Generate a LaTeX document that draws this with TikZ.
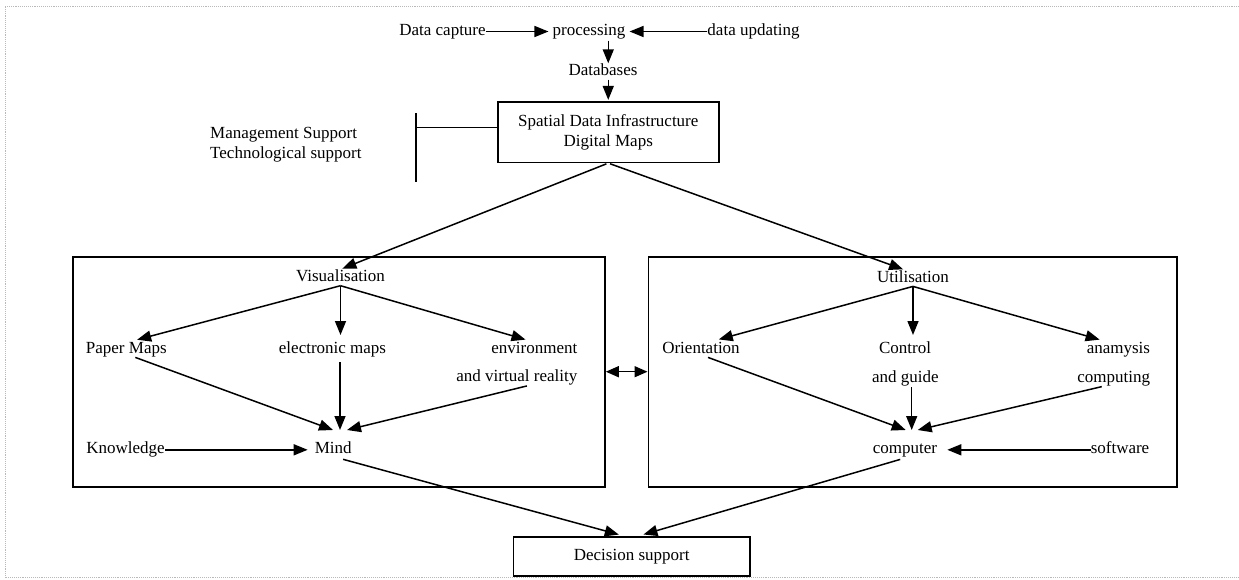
\documentclass[tikz,border=0pt]{standalone}
\usepackage{fontspec}
\setmainfont{Liberation Serif}
\usetikzlibrary{arrows.meta}
\begin{document}
\begin{tikzpicture}[x=1pt,y=-1pt,
  every node/.style={font=\fontsize{17}{20}\selectfont},
  lbl/.style={inner sep=0pt, text height=12pt, text depth=4pt},
  boxed/.style={draw, line width=1.6pt, inner sep=0pt},
  conn/.style={line width=1.5pt},
  arr/.style={conn, -{Triangle[length=14pt,width=11pt]}},
  darr/.style={conn, {Triangle[length=13pt,width=11pt]}-{Triangle[length=13pt,width=11pt]}},
  border/.style={draw=gray!55, line width=0.9pt, densely dotted}]
\useasboundingbox (0,0) rectangle (1239,579);
\draw[border] (1239,6) -- (5,6) -- (5,577.5) -- (1239,577.5);

% containers
\node[boxed, minimum width=532.3pt, minimum height=230pt] (lbox) at (338.85,371.7) {};
\node[boxed, minimum width=528.4pt, minimum height=230pt] (rbox) at (912.5,371.7) {};
\node[boxed, minimum width=221pt, minimum height=60.6pt, align=center] (sdi) at (608.25,132) {Spatial Data Infrastructure\\Digital Maps};
\node[boxed, minimum width=236.7pt, minimum height=39.3pt] (ds) at (631.65,556.35) {Decision support};

% top
\node[lbl] (dcap) at (442.5,31.5) {Data capture};
\node[lbl] (proc) at (589,31.5) {processing};
\node[lbl] (dupd) at (753.5,31.5) {data updating};
\node[lbl] (db) at (603,71.5) {Databases};
\node[inner sep=0pt, align=left, anchor=west] (mgmt) at (210,144.5) {Management Support\\Technological support};
\coordinate (brtop) at (416,113.3);
\coordinate (brbot) at (416,181.7);
\coordinate (brmid) at (416,127.3);

% left panel
\node[lbl] (vis) at (340.5,277.5) {Visualisation};
\node[lbl] (paper) at (126.3,349.2) {Paper Maps};
\node[lbl] (elec) at (332.5,349.2) {electronic maps};
\node[lbl] (env) at (534.3,349.2) {environment};
\node[lbl] (vr) at (516.85,377.5) {and virtual reality};
\node[lbl] (know) at (125.5,449.8) {Knowledge};
\node[lbl] (mind) at (333.3,449.8) {Mind};
\coordinate (mindin) at (340,430);

% right panel
\node[lbl] (util) at (913,278.2) {Utilisation};
\node[lbl] (orient) at (701,349.2) {Orientation};
\node[lbl] (ctrl) at (905,349.2) {Control};
\node[lbl] (guide) at (905.3,378.2) {and guide};
\node[lbl] (anam) at (1118.4,349.2) {anamysis};
\node[lbl] (comp) at (1113.7,378.2) {computing};
\node[lbl] (computer) at (905,449.8) {computer};
\node[lbl] (soft) at (1120,449.8) {software};
\coordinate (compin) at (911.7,430);

% top connectors
\draw[arr, shorten >=4pt] (dcap.east) -- (proc.west);
\draw[arr, shorten >=4pt] (dupd.west) -- (proc.east);
\draw[arr, shorten <=1pt] (proc.south -| sdi.north) -- (db.north -| sdi.north);
\draw[arr, shorten >=1pt] (db.south -| sdi.north) -- (sdi.north);
\draw[conn] (brtop) -- (brbot);
\draw[conn] (brmid) -- (brmid -| sdi.west);
\draw[arr, shorten <=2pt, shorten >=2pt] (sdi.south) -- (vis.north);
\draw[arr, shorten <=2pt, shorten >=2pt] (sdi.south) -- ([xshift=-8pt]util.north);

% left connectors
\draw[arr, shorten >=5pt] (vis.south) -- ([xshift=6pt]paper.north);
\draw[arr, shorten >=6pt] (vis.south) -- (vis.south |- elec.north);
\draw[arr, shorten >=5pt] (vis.south) -- ([xshift=-4pt]env.north);
\draw[arr] ([xshift=9pt]paper.south) -- ([xshift=-7pt]mindin);
\draw[arr, shorten <=5pt] (elec.south -| mindin) -- (mindin);
\draw[arr, shorten <=1pt] ([xshift=11pt]vr.south) -- ([xshift=7pt]mindin);
\draw[arr, shorten >=7pt] (know.east) -- (mind.west);
\draw[arr, shorten <=5pt, shorten >=5pt] ([xshift=5pt]mind.south) -- ([xshift=-8pt]ds.north);

% right connectors
\draw[arr, shorten >=6pt] (util.south) -- ([xshift=12pt]orient.north);
\draw[arr, shorten >=6pt] (util.south) -- (util.south |- ctrl.north);
\draw[arr, shorten >=5pt] (util.south) -- ([xshift=-14pt]anam.north);
\draw[arr] ([xshift=7pt]orient.south) -- ([xshift=-6pt]compin);
\draw[arr, shorten <=1pt] (guide.south -| compin) -- (compin);
\draw[arr, shorten <=1pt] ([xshift=-11pt]comp.south) -- ([xshift=6pt]compin);
\draw[arr, shorten >=10pt] (soft.west) -- (computer.east);
\draw[arr, shorten <=5pt, shorten >=5pt] (computer.south) -- ([xshift=7pt]ds.north);

% between panels
\draw[darr] (lbox.east) -- (rbox.west);
\end{tikzpicture}
\end{document}
